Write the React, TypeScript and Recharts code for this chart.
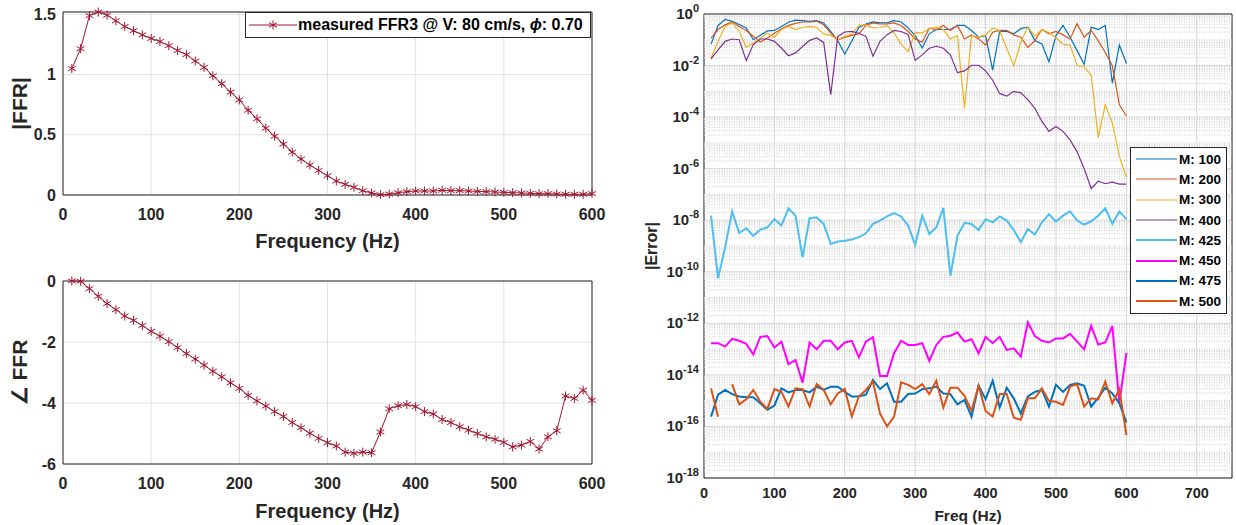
import React from 'react';
import { LineChart, Line, XAxis, YAxis, CartesianGrid, ReferenceArea, ReferenceLine } from 'recharts';

const FONT = '"Liberation Sans", Arial, Helvetica, sans-serif';
const INK = '#262626';
const FFR_RED = '#A2142F';

// frequency points (Hz)
const freq = [
  10, 20, 30, 40, 50, 60, 70, 80, 90, 100,
  110, 120, 130, 140, 150, 160, 170, 180, 190, 200,
  210, 220, 230, 240, 250, 260, 270, 280, 290, 300,
  310, 320, 330, 340, 350, 360, 370, 380, 390, 400,
  410, 420, 430, 440, 450, 460, 470, 480, 490, 500,
  510, 520, 530, 540, 550, 560, 570, 580, 590, 600,
];

const ffrMag = [
  1.05, 1.215, 1.49, 1.52, 1.494, 1.447, 1.4, 1.365, 1.33, 1.3,
  1.275, 1.24, 1.2, 1.166, 1.113, 1.06, 0.99, 0.925, 0.854, 0.79,
  0.704, 0.633, 0.555, 0.489, 0.423, 0.356, 0.298, 0.249, 0.204, 0.16,
  0.116, 0.088, 0.064, 0.036, 0.017, 0.003, 0.008, 0.019, 0.028, 0.033,
  0.033, 0.033, 0.039, 0.036, 0.036, 0.033, 0.03, 0.028, 0.025, 0.022,
  0.019, 0.017, 0.014, 0.011, 0.011, 0.008, 0.006, 0.006, 0.006, 0.011,
];

const ffrPhase = [
  0, -0.01, -0.25, -0.5, -0.74, -0.94, -1.15, -1.29, -1.46, -1.65,
  -1.81, -1.99, -2.18, -2.38, -2.56, -2.76, -2.96, -3.14, -3.34, -3.52,
  -3.75, -3.93, -4.1, -4.28, -4.44, -4.64, -4.81, -4.99, -5.16, -5.3,
  -5.41, -5.61, -5.65, -5.61, -5.63, -4.95, -4.19, -4.09, -4.05, -4.12,
  -4.28, -4.36, -4.54, -4.64, -4.78, -4.89, -5.0, -5.11, -5.19, -5.29,
  -5.44, -5.38, -5.26, -5.51, -5.11, -4.91, -3.77, -3.85, -3.58, -3.91,
];

const errM100 = [
  0.068, 0.36, 0.62, 0.52, 0.39, 0.29, 0.1, 0.15, 0.22, 0.23,
  0.33, 0.48, 0.58, 0.55, 0.52, 0.55, 0.45, 0.21, 0.092, 0.028,
  0.09, 0.3, 0.41, 0.49, 0.45, 0.45, 0.55, 0.49, 0.29, 0.145,
  0.048, 0.17, 0.25, 0.25, 0.25, 0.36, 0.36, 0.23, 0.126, 0.145,
  0.0066, 0.21, 0.21, 0.17, 0.27, 0.31, 0.093, 0.069, 0.014, 0.145,
  0.36, 0.126, 0.038, 0.011, 0.31, 0.25, 0.36, 0.0021, 0.063, 0.012,
];

const errM200 = [
  0.117, 0.25, 0.38, 0.49, 0.33, 0.23, 0.136, 0.082, 0.117, 0.18,
  0.27, 0.36, 0.43, 0.49, 0.49, 0.52, 0.38, 0.18, 0.1, 0.124,
  0.148, 0.17, 0.36, 0.45, 0.41, 0.41, 0.45, 0.36, 0.21, 0.108,
  0.08, 0.28, 0.25, 0.36, 0.23, 0.36, 0.108, 0.155, 0.108, 0.063,
  0.196, 0.23, 0.23, 0.155, 0.126, 0.051, 0.093, 0.25, 0.17, 0.21,
  0.155, 0.108, 0.42, 0.126, 0.23, 0.093, 0.032, 0.0098, 3.0e-4, 1.1e-4,
];

const errM300 = [
  0.0195, 0.087, 0.33, 0.45, 0.21, 0.051, 0.074, 0.117, 0.18, 0.124,
  0.25, 0.33, 0.25, 0.3, 0.33, 0.3, 0.17, 0.148, 0.1, 0.136,
  0.17, 0.36, 0.38, 0.29, 0.3, 0.36, 0.18, 0.068, 0.035, 0.19,
  0.185, 0.27, 0.31, 0.25, 0.108, 0.145, 2.2e-4, 0.145, 0.126, 0.155,
  0.28, 0.23, 0.047, 0.0098, 0.08, 0.31, 0.14, 0.25, 0.19, 0.12,
  0.067, 0.062, 0.01, 0.009, 0.0042, 1.6e-5, 3.0e-4, 6.0e-5, 3.0e-6, 4.5e-7,
];

const errM400 = [
  0.018, 0.041, 0.087, 0.107, 0.1, 0.0155, 0.065, 0.107, 0.107, 0.087,
  0.048, 0.024, 0.031, 0.055, 0.095, 0.117, 0.079, 7.4e-4, 0.135, 0.2,
  0.21, 0.18, 0.135, 0.023, 0.087, 0.158, 0.23, 0.21, 0.158, 0.016,
  0.026, 0.047, 0.056, 0.047, 0.026, 0.0053, 0.0062, 0.0103, 0.0103, 0.0062,
  0.0027, 8.3e-4, 6.5e-4, 0.001, 8.7e-4, 4.8e-4, 2.2e-4, 6.8e-5, 2.8e-5, 4.3e-5,
  2.8e-5, 1.3e-5, 4.5e-6, 1.0e-6, 1.7e-7, 3.3e-7, 2.6e-7, 3.0e-7, 2.5e-7, 2.5e-7,
];

const errM425 = [
  1.5e-8, 5.6e-11, 8.9e-10, 2.2e-8, 3.2e-9, 4.9e-9, 2.5e-9, 4.3e-9, 5.3e-9, 1.1e-8,
  6.2e-9, 2.9e-8, 1.5e-8, 3.6e-10, 1.2e-8, 1.3e-8, 7.2e-9, 1.2e-9, 1.5e-9, 1.6e-9,
  1.8e-9, 2.2e-9, 3.1e-9, 7.2e-9, 9.7e-9, 1.4e-8, 1.9e-8, 1.4e-8, 6.2e-9, 1.1e-9,
  1.5e-8, 2.9e-9, 5.3e-9, 3.0e-8, 6.9e-11, 2.5e-9, 7.9e-9, 7.2e-9, 4.2e-9, 1.1e-8,
  8.3e-9, 1.4e-8, 9.7e-9, 4.2e-9, 1.4e-9, 4.6e-9, 2.8e-9, 8.3e-9, 1.7e-8, 8.9e-9,
  1.5e-8, 2.2e-8, 9.7e-9, 6.8e-9, 9.1e-9, 1.5e-8, 2.9e-8, 7.2e-9, 2.2e-8, 1.1e-8,
];

const errM450 = [
  1.7e-13, 1.7e-13, 1.25e-13, 2.5e-13, 2.1e-13, 1.6e-13, 6.3e-14, 3.0e-13, 3.2e-13, 1.15e-13,
  1.95e-13, 2.6e-14, 3.8e-14, 5.0e-15, 1.8e-13, 9.8e-14, 2.1e-13, 2.1e-13, 9.8e-14, 1.8e-13,
  2.1e-13, 4.8e-14, 1.95e-13, 2.9e-13, 9.1e-15, 9.1e-15, 6.9e-14, 2.1e-13, 1.45e-13, 1.45e-13,
  1.7e-13, 3.5e-14, 1.45e-13, 3.0e-13, 3.3e-13, 4.4e-13, 1.95e-13, 2.4e-13, 6.9e-14, 3.0e-13,
  1.7e-13, 3.0e-13, 9.3e-14, 1.07e-13, 5.1e-14, 1.1e-12, 3.2e-13, 2.1e-13, 1.8e-13, 2.6e-13,
  2.6e-13, 3.9e-13, 1.95e-13, 9.8e-14, 7.9e-13, 1.5e-13, 1.8e-13, 7.9e-13, 8.0e-16, 7.2e-14,
];

const errM475 = [
  2.4e-16, 1.7e-15, 2.6e-15, 1.8e-15, 1.45e-15, 1.35e-15, 1.35e-15, 7.9e-16, 4.4e-16, 6.5e-16,
  3.0e-15, 2.1e-15, 2.6e-15, 2.6e-15, 2.1e-15, 3.5e-15, 2.6e-15, 3.5e-15, 3.5e-15, 2.2e-15,
  1.45e-15, 1.45e-15, 1.7e-15, 6.4e-15, 2.8e-15, 4.7e-15, 9.1e-16, 9.1e-16, 1.8e-15, 1.9e-15,
  2.8e-15, 3.0e-15, 3.5e-15, 1.9e-15, 1.8e-15, 7.2e-16, 1.07e-15, 2.4e-16, 3.8e-15, 1.15e-15,
  5.9e-15, 5.4e-16, 3.2e-15, 1.23e-15, 3.2e-16, 1.45e-15, 2.2e-15, 2.6e-15, 5.9e-16, 4.1e-15,
  2.2e-15, 4.1e-15, 4.7e-15, 3.8e-15, 5.9e-16, 1.3e-15, 3.2e-15, 1.9e-15, 7.9e-16, 1.45e-16,
];

// null = zero error, not drawable on log axis
const errM500 = [
  3.0e-15, 2.4e-16, null, 4.4e-15, 7.2e-16, 1.12e-15, 2.6e-15, 9.1e-16, 4.8e-16, 2.8e-15,
  2.2e-15, 5.9e-16, 3.0e-15, 2.8e-15, 5.9e-16, 4.4e-15, 2.6e-15, 7.2e-16, 1.9e-15, 2.8e-15,
  2.4e-16, 1.45e-15, 2.6e-15, 5.5e-15, 3.2e-16, 1.0e-16, 2.4e-16, 5.1e-15, 4.1e-15, 2.8e-15,
  4.4e-15, 1.8e-15, 5.9e-15, 5.4e-16, 3.2e-15, 3.2e-15, 1.55e-15, 4.0e-16, 3.8e-15, 4.0e-16,
  2.4e-16, 1.8e-15, 1.8e-15, 2.2e-16, 1.8e-16, 1.23e-15, 1.23e-15, 3.0e-15, 9.8e-16, 9.1e-16,
  6.8e-16, 3.5e-15, 4.4e-15, 5.9e-16, 1.23e-15, 1.12e-15, 5.5e-15, 7.9e-16, 2.8e-15, 4.6e-17,
];

const freqTicks = [0, 100, 200, 300, 400, 500, 600];
const errFreqTicks = [0, 100, 200, 300, 400, 500, 600, 700];
const magTicks = [0, 0.5, 1, 1.5];
const phaseTicks = [-6, -4, -2, 0];
const errTicks = [1, 1e-2, 1e-4, 1e-6, 1e-8, 1e-10, 1e-12, 1e-14, 1e-16, 1e-18];

const magData = freq.map((f, i) => ({ f, mag: ffrMag[i] }));
const phaseData = freq.map((f, i) => ({ f, phase: ffrPhase[i] }));
const errData = freq.map((f, i) => ({
  f,
  m100: errM100[i], m200: errM200[i], m300: errM300[i], m400: errM400[i],
  m425: errM425[i], m450: errM450[i], m475: errM475[i], m500: errM500[i],
}));

const errSeries = [
  { key: 'm100', name: 'M: 100', color: '#0072BD', width: 1.2 },
  { key: 'm200', name: 'M: 200', color: '#D95319', width: 1.2 },
  { key: 'm300', name: 'M: 300', color: '#EDB120', width: 1.2 },
  { key: 'm400', name: 'M: 400', color: '#7E2F8E', width: 1.2 },
  { key: 'm425', name: 'M: 425', color: '#4DBEEE', width: 2 },
  { key: 'm450', name: 'M: 450', color: '#FF00FF', width: 2 },
  { key: 'm475', name: 'M: 475', color: '#0072BD', width: 2 },
  { key: 'm500', name: 'M: 500', color: '#D95319', width: 2 },
];

// minor log grid: 2..9 x 10^k plus odd decades
const minorGrid: number[] = [];
for (let k = -18; k < 0; k++) {
  for (let m = 1; m <= 9; m++) {
    if (m === 1 && k % 2 === 0) continue;
    minorGrid.push(m * Math.pow(10, k));
  }
}

const tickStyle = (size: number) => ({ fill: INK, fontSize: size, fontWeight: 'bold', fontFamily: FONT });

const Asterisk = ({ cx, cy }: any) => {
  if (cx == null || cy == null) return null;
  const r = 4.5;
  const dx = r * Math.cos(Math.PI / 6);
  const dy = r * Math.sin(Math.PI / 6);
  return (
    <g stroke={FFR_RED} strokeWidth={1}>
      <line x1={cx} y1={cy - r} x2={cx} y2={cy + r} />
      <line x1={cx - dx} y1={cy - dy} x2={cx + dx} y2={cy + dy} />
      <line x1={cx - dx} y1={cy + dy} x2={cx + dx} y2={cy - dy} />
    </g>
  );
};

const TitleV = ({ viewBox, value, posX, size }: any) => {
  const cy = viewBox ? viewBox.y + viewBox.height / 2 : 100;
  return (
    <text x={posX} y={cy} transform={`rotate(-90, ${posX}, ${cy})`} textAnchor="middle" dominantBaseline="central"
      fill={INK} fontSize={size} fontWeight="bold" fontFamily={FONT}>{value}</text>
  );
};

const TitleH = ({ viewBox, value, posY, size }: any) => {
  const cx = viewBox ? viewBox.x + viewBox.width / 2 : 300;
  return (
    <text x={cx} y={posY} textAnchor="middle" dominantBaseline="central"
      fill={INK} fontSize={size} fontWeight="bold" fontFamily={FONT}>{value}</text>
  );
};

const LogTick = ({ x, y, payload }: any) => {
  const exp = Math.round(Math.log10(payload.value));
  return (
    <text x={x} y={y + 5} textAnchor="end" fill={INK} fontWeight="bold" fontFamily={FONT} fontSize={15}>
      <tspan>10</tspan>
      <tspan dy={-7} fontSize={11}>{exp}</tspan>
    </text>
  );
};

const App: React.FC = () => {
  return (
    <div style={{ position: 'absolute', left: 0, top: 0, width: 1236, height: 525, background: '#fff', fontFamily: FONT }}>
      {/* |FFR| */}
      <div style={{ position: 'absolute', left: 0, top: 0 }}>
        <LineChart width={610} height={260} data={magData} margin={{ top: 12, right: 18, bottom: 0, left: 8 }}>
          <CartesianGrid stroke="#e2e2e2" />
          <XAxis dataKey="f" type="number" domain={[0, 600]} ticks={freqTicks} tickSize={0} tickMargin={14}
            height={65} axisLine={false} tick={tickStyle(16)}
            label={<TitleH value="Frequency (Hz)" posY={241} size={20} />} />
          <YAxis type="number" domain={[0, 1.52]} ticks={magTicks} width={55} tickSize={0} tickMargin={7}
            axisLine={false} tick={tickStyle(16)}
            label={<TitleV value="|FFR|" posX={19} size={21} />} />
          <ReferenceArea x1={0} x2={600} y1={0} y2={1.52} fill="none" stroke={INK} strokeWidth={1} />
          <Line type="linear" dataKey="mag" stroke={FFR_RED} strokeWidth={1} isAnimationActive={false}
            dot={(p: any) => <Asterisk key={`m${p.index}`} cx={p.cx} cy={p.cy} />} />
        </LineChart>
      </div>

      {/* legend of |FFR| */}
      <div style={{ position: 'absolute', left: 245, top: 12, width: 344, height: 24, border: `1px solid ${INK}`, background: '#fff', display: 'flex', alignItems: 'center' }}>
        <svg width={52} height={24} style={{ flex: 'none' }}>
          <line x1={3} y1={12} x2={51} y2={12} stroke={FFR_RED} strokeWidth={1} />
          <Asterisk cx={27} cy={12} />
        </svg>
        <span style={{ fontSize: 16, fontWeight: 'bold', color: '#000', whiteSpace: 'nowrap' }}>
          measured FFR3 @ V: 80 cm/s, <i>ϕ</i>: 0.70
        </span>
      </div>

      {/* phase */}
      <div style={{ position: 'absolute', left: 0, top: 260 }}>
        <LineChart width={610} height={265} data={phaseData} margin={{ top: 21, right: 18, bottom: 0, left: 8 }}>
          <CartesianGrid stroke="#e2e2e2" />
          <XAxis dataKey="f" type="number" domain={[0, 600]} ticks={freqTicks} tickSize={0} tickMargin={14}
            height={61} axisLine={false} tick={tickStyle(16)}
            label={<TitleH value="Frequency (Hz)" posY={251} size={20} />} />
          <YAxis type="number" domain={[-6, 0]} ticks={phaseTicks} width={55} tickSize={0} tickMargin={7}
            axisLine={false} tick={tickStyle(16)}
            label={<TitleV value="∠ FFR" posX={19} size={21} />} />
          <ReferenceArea x1={0} x2={600} y1={-6} y2={0} fill="none" stroke={INK} strokeWidth={1} />
          <Line type="linear" dataKey="phase" stroke={FFR_RED} strokeWidth={1} isAnimationActive={false}
            dot={(p: any) => <Asterisk key={`p${p.index}`} cx={p.cx} cy={p.cy} />} />
        </LineChart>
      </div>

      {/* |Error| */}
      <div style={{ position: 'absolute', left: 640, top: 0 }}>
        <LineChart width={596} height={525} data={errData} margin={{ top: 14, right: 4, bottom: 0, left: 4 }}>
          <CartesianGrid horizontalValues={errTicks} stroke="#d8d8d8" />
          <XAxis dataKey="f" type="number" domain={[0, 750]} ticks={errFreqTicks} tickSize={0} tickMargin={10}
            height={47} axisLine={false} tick={tickStyle(14.5)}
            label={<TitleH value="Freq (Hz)" posY={515} size={15.5} />} />
          <YAxis type="number" scale="log" domain={[1e-18, 1]} allowDataOverflow ticks={errTicks} width={60}
            tickSize={0} tickMargin={5} axisLine={false} tick={<LogTick />}
            label={<TitleV value="|Error|" posX={11} size={16} />} />
          {minorGrid.map((v) => (
            <ReferenceLine key={`g${v}`} y={v} stroke="#cdcdcd" strokeWidth={1} strokeDasharray="1 1.5" />
          ))}
          <ReferenceArea x1={0} x2={750} y1={1e-18} y2={1} fill="none" stroke={INK} strokeWidth={1} />
          {errSeries.map((s) => (
            <Line key={s.key} type="linear" dataKey={s.key} name={s.name} stroke={s.color} strokeWidth={s.width}
              dot={false} isAnimationActive={false} />
          ))}
        </LineChart>
      </div>

      {/* legend of |Error| */}
      <div style={{ position: 'absolute', left: 1130, top: 147, width: 95, height: 164, border: `1px solid ${INK}`, background: '#fff', paddingTop: 1 }}>
        {errSeries.map((s) => (
          <div key={s.key} style={{ display: 'flex', alignItems: 'center', height: 20.3 }}>
            <svg width={48} height={12} style={{ flex: 'none' }}>
              <line x1={5} y1={6} x2={46} y2={6} stroke={s.color} strokeWidth={s.width} />
            </svg>
            <span style={{ fontSize: 13.5, fontWeight: 'bold', color: '#000', whiteSpace: 'nowrap' }}>{s.name}</span>
          </div>
        ))}
      </div>
    </div>
  );
};

export default App;
